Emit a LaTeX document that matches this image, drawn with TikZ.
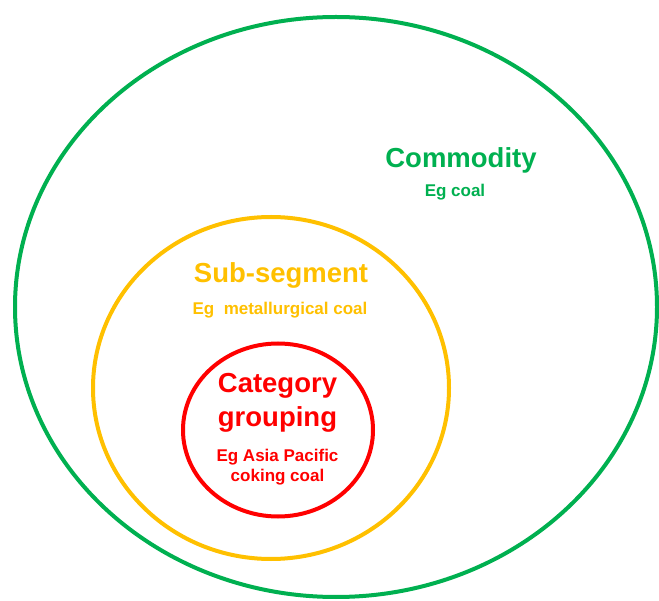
\documentclass[tikz,border=0pt]{standalone}
\usepackage{fontspec}
\setmainfont{Liberation Sans}
\usetikzlibrary{shapes.geometric,positioning}

\definecolor{ringgreen}{HTML}{00B050}
\definecolor{ringyellow}{HTML}{FFC000}
\definecolor{ringred}{HTML}{FF0000}

\begin{document}
\begin{tikzpicture}[
  x=1pt,y=-1pt,
  ring/.style={ellipse,draw,line width=4pt,inner sep=0pt},
  title/.style={anchor=base,inner sep=0pt,align=center,
    font=\bfseries\fontsize{27.5}{34}\selectfont},
  note/.style={anchor=base,inner sep=0pt,align=center,
    font=\bfseries\fontsize{17}{20}\selectfont}
]
  \useasboundingbox (0,0) rectangle (659,601);

  % nested rings
  \node[ring,ringgreen,minimum width=642pt,minimum height=580pt] (commodity) at (336,307) {};
  \node[ring,ringyellow,minimum width=356pt,minimum height=342pt] (subsegment) at (271,388) {};
  \node[ring,ringred,minimum width=190pt,minimum height=173pt] (category) at (278,430) {};

  % labels (base sits on the last line)
  \node[title,ringgreen] (commodityname) at (461,168) {Commodity};
  \node[note,ringgreen] (commodityeg) at (455,197) {Eg coal};
  \node[title,ringyellow] (subsegmentname) at (281,283) {Sub-segment};
  \node[note,ringyellow] (subsegmenteg) at (280,315) {Eg~ metallurgical coal};
  \node[title,ringred] (categoryname) at (277.5,427) {Category\\grouping};
  \node[note,ringred] (categoryeg) at (277.5,482) {Eg Asia Pacific\\coking coal};
\end{tikzpicture}
\end{document}
